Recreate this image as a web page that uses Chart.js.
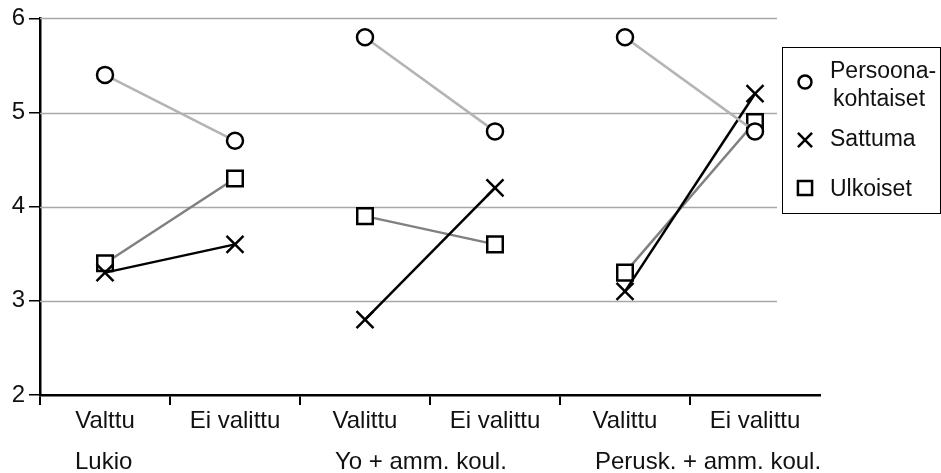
<!DOCTYPE html>
<html>
<head>
<meta charset="utf-8">
<script src="https://cdn.jsdelivr.net/npm/chart.js@4/dist/chart.umd.min.js"></script>
<style>
  html,body{margin:0;padding:0;background:#fff}
  #wrap{width:941px;height:473px}
</style>
</head>
<body>
<div id="wrap"><canvas id="c" width="941" height="473"></canvas></div>
<script>
// Data
const categories = ["Valttu","Ei valittu","Valittu","Ei valittu","Valittu","Ei valittu"];
const groups = ["Lukio","Yo + amm. koul.","Perusk. + amm. koul."];
const persoona = [5.4, 4.7, 5.8, 4.8, 5.8, 4.8];
const sattuma  = [3.3, 3.6, 2.8, 4.2, 3.1, 5.2];
const ulkoiset = [3.4, 4.3, 3.9, 3.6, 3.3, 4.9];
const yTicks = [2, 3, 4, 5, 6];
const legendLabels = [["Persoona-","kohtaiset"],["Sattuma"],["Ulkoiset"]];

const FONT = "'Liberation Sans', Arial, sans-serif";
const INK = "#111";

// only connect Valittu -> Ei valittu inside each group
const pairSeg = col => ({ borderColor: c => c.p0DataIndex % 2 ? "rgba(0,0,0,0)" : col });

const ds = (label, data, col, style, r) => ({
  label, data, borderColor: col, borderWidth: 2.5, segment: pairSeg(col),
  pointStyle: style, pointRadius: r, pointHoverRadius: r,
  pointBorderColor: "#000", pointBackgroundColor: "#fff", pointBorderWidth: 2.5,
  tension: 0, fill: false
});

// grid lines stop short of the legend box
const gridPlugin = {
  id: "grid",
  beforeDatasetsDraw(chart){
    const {ctx, chartArea:a, scales:{y}} = chart;
    ctx.save();
    ctx.strokeStyle = "#a8a8a8"; ctx.lineWidth = 1.5;
    yTicks.filter(v => v > y.min).forEach(v => {
      const py = Math.round(y.getPixelForValue(v)) + 0.5;
      ctx.beginPath(); ctx.moveTo(a.left, py); ctx.lineTo(a.right - 43, py); ctx.stroke();
    });
    ctx.restore();
  }
};

// group names under the tick labels + boxed legend
const extrasPlugin = {
  id: "extras",
  afterDraw(chart){
    const {ctx, scales:{x}} = chart;
    ctx.save();
    ctx.fillStyle = INK;
    ctx.font = "24px " + FONT;
    ctx.textBaseline = "middle";
    ctx.textAlign = "left";
    groups.forEach((g, i) => ctx.fillText(g, x.getPixelForValue(i * 2) - 30, 462));

    // legend
    ctx.strokeStyle = "#000"; ctx.lineWidth = 1;
    ctx.strokeRect(782.5, 47.5, 158, 166);
    const rows = [[82, 72], [140, 140], [188, 190]];
    ctx.font = "23px " + FONT;
    chart.data.datasets.forEach((d, i) => {
      const [my, ty] = rows[i];
      ctx.lineWidth = 2.5; ctx.strokeStyle = "#000"; ctx.fillStyle = "#fff";
      Chart.helpers.drawPoint(ctx, {pointStyle: d.pointStyle, radius: d.pointStyle === "circle" ? 6.5 : 10, borderWidth: 2.5}, 805, my);
      ctx.fillStyle = INK;
      const lines = legendLabels[i];
      if (lines.length === 2){
        ctx.fillText(lines[0], 830, ty);
        ctx.fillText(lines[1], 833, ty + 28);
      } else ctx.fillText(lines[0], 830, ty);
    });
    ctx.restore();
  }
};

new Chart(document.getElementById("c"), {
  type: "line",
  data: {
    labels: categories,
    datasets: [
      ds("Persoonakohtaiset", persoona, "#b4b4b4", "circle", 8),
      ds("Sattuma", sattuma, "#000", "crossRot", 12),
      ds("Ulkoiset", ulkoiset, "#808080", "rect", 11)
    ]
  },
  options: {
    responsive: false, animation: false,
    layout: { padding: { top: 16, right: 121, left: 0, bottom: 0 } },
    plugins: { legend: { display: false }, tooltip: { enabled: false } },
    scales: {
      x: {
        offset: true,
        afterFit: s => { s.height = 78; },
        grid: { drawOnChartArea: false, offset: true, tickLength: 10, lineWidth: 2,
                tickColor: c => c.type === "tick" ? "#000" : "rgba(0,0,0,0)" },
        border: { color: "#000", width: 2.5 },
        ticks: { color: INK, font: { family: FONT, size: 24 }, padding: 2, maxRotation: 0, autoSkip: false }
      },
      y: {
        min: 2, max: 6,
        afterFit: s => { s.width = 40; },
        afterBuildTicks: s => { s.ticks = yTicks.map(v => ({ value: v })); },
        grid: { drawOnChartArea: false, tickLength: 11, tickColor: "#000", lineWidth: 1.5 },
        border: { color: "#000", width: 2.5 },
        ticks: { color: INK, font: { family: FONT, size: 24 }, padding: 4 }
      }
    }
  },
  plugins: [gridPlugin, extrasPlugin]
});
</script>
</body>
</html>
